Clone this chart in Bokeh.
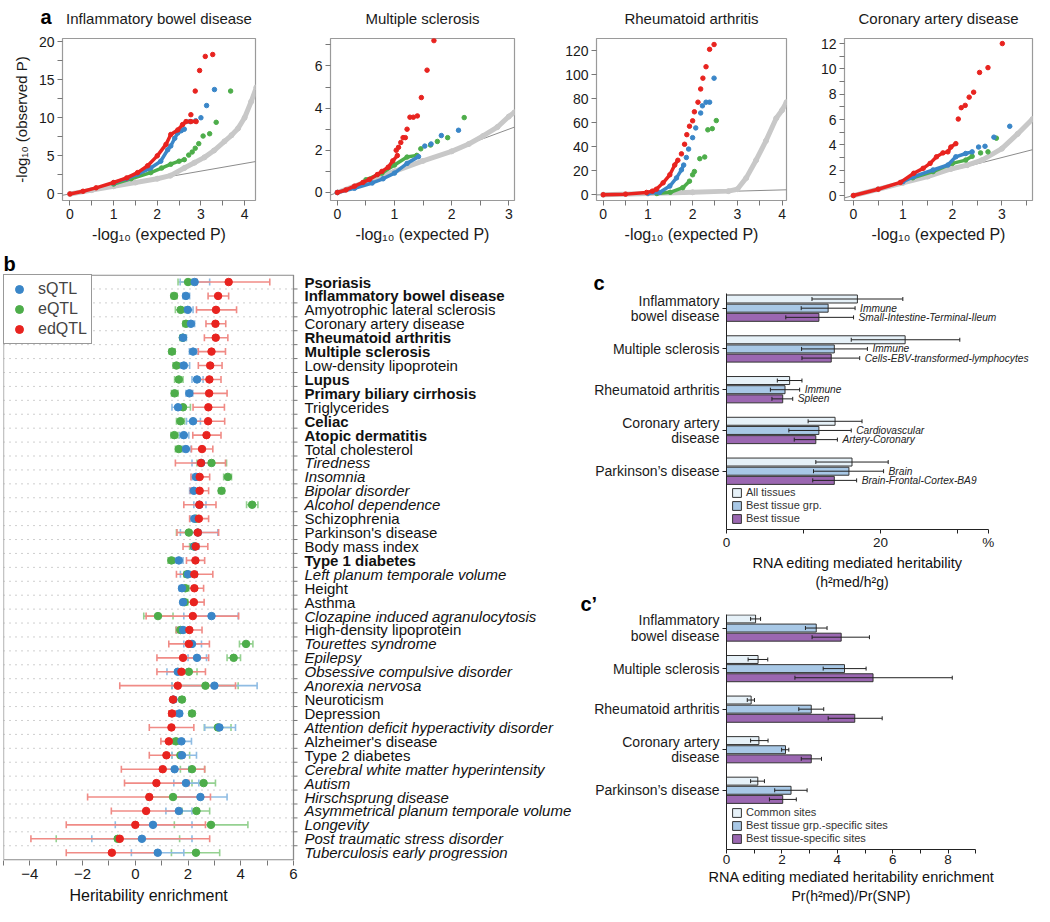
import math
from bokeh.plotting import figure
from bokeh.layouts import row, column
from bokeh.models import (Range1d, FixedTicker, Slope, ColumnDataSource, Legend, LegendItem,
                          Title)
from bokeh.core.properties import value, field
from bokeh.embed import file_html
from bokeh.resources import INLINE

FONT = "Liberation Sans"
RED, BLUE, GREEN, GRAY = "#E8231F", "#3A86C8", "#4DAD4A", "#C8C8C8"
RED_L, BLUE_L, GREEN_L = "#F08B86", "#8FBCE3", "#95D191"
C_ALL, C_GRP, C_BEST = "#E6F1F8", "#A8C8E6", "#9B67B1"

# ---------------- panel a : QQ data ----------------
ibd_gray_x = [0, 0.5, 1.0, 1.5, 2.0, 2.3, 2.62, 2.85, 3.08, 3.3, 3.54, 3.7, 3.85, 4.0, 4.15, 4.27]
ibd_gray_y = [0, 0.5, 1.0, 1.5, 2.0, 2.4, 3.4, 4.1, 4.8, 5.7, 6.9, 7.7, 8.6, 10.0, 12.1, 14.0]
ibd_red_x = [0, 0.3, 0.6, 1.0, 1.3, 1.55, 1.78, 2.0, 2.2, 2.31, 2.47, 2.58, 2.66, 2.77, 2.89]
ibd_red_y = [0, 0.35, 0.8, 1.5, 2.1, 2.8, 3.7, 5.0, 6.5, 7.8, 8.4, 9.1, 9.5, 9.5, 9.5]
ibd_red_tx = [2.77, 2.87, 2.97, 3.1, 3.27]
ibd_red_ty = [10.4, 13.5, 16.2, 18.05, 18.3]
ibd_blue_x = [1.0, 1.3, 1.55, 1.85, 2.08, 2.24, 2.31, 2.4, 2.47, 2.55, 2.62]
ibd_blue_y = [1.45, 2.0, 2.6, 3.4, 4.3, 5.8, 6.3, 7.3, 8.0, 8.3, 8.5]
ibd_blue_tx = [2.75, 2.88, 3.0, 3.13, 3.31]
ibd_blue_ty = [9.5, 9.6, 10.0, 11.6, 13.7]
ibd_green_x = [1.0, 1.4, 1.85, 2.1, 2.31, 2.5, 2.62]
ibd_green_y = [1.3, 2.0, 2.8, 3.4, 3.9, 4.3, 4.5]
ibd_green_tx = [2.72, 2.8, 2.87, 2.95, 3.05, 3.2, 3.35, 3.68]
ibd_green_ty = [5.1, 5.5, 6.0, 6.6, 7.6, 7.9, 9.4, 13.5]

ms_gray_x = [0, 0.5, 1.0, 1.5, 2.0, 2.3, 2.55, 2.8, 3.0, 3.1]
ms_gray_y = [0, 0.5, 1.0, 1.5, 1.95, 2.3, 2.68, 3.1, 3.6, 3.8]
ms_red_x = [0, 0.15, 0.3, 0.45, 0.56, 0.7, 0.78, 0.89, 0.97, 1.05]
ms_red_y = [0, 0.12, 0.3, 0.48, 0.62, 0.85, 1.0, 1.2, 1.5, 1.75]
ms_red_tx = [1.03, 1.07, 1.11, 1.15, 1.19, 1.22, 1.27, 1.33, 1.4, 1.47, 1.57, 1.69]
ms_red_ty = [2.0, 2.14, 2.37, 2.6, 2.6, 3.0, 3.57, 3.57, 3.63, 4.5, 5.8, 7.2]
ms_blue_x = [0, 0.3, 0.61, 0.8, 1.0, 1.22, 1.42]
ms_blue_y = [0, 0.2, 0.45, 0.65, 0.92, 1.38, 1.7]
ms_blue_tx = [1.53, 1.64, 1.82, 2.12]
ms_blue_ty = [2.2, 2.3, 2.7, 2.95]
ms_green_x = [0.5, 0.78, 1.0, 1.22, 1.39]
ms_green_y = [0.6, 0.92, 1.3, 1.68, 1.76]
ms_green_tx = [1.46, 1.63, 1.75, 1.93, 2.22]
ms_green_ty = [2.07, 2.25, 2.42, 2.6, 3.55]

ra_gray_x = [0, 1.0, 2.0, 2.8, 3.0, 3.2, 3.42, 3.64, 3.87, 4.0, 4.1]
ra_gray_y = [0, 1.0, 2.0, 3.0, 4.6, 14.0, 28.7, 44.8, 63.6, 70.3, 77.0]
ra_red_x = [0, 0.5, 0.97, 1.1, 1.19, 1.34, 1.49, 1.6, 1.67]
ra_red_y = [0, 0.5, 1.9, 3.0, 4.6, 9.9, 16.6, 24.7, 28.7]
ra_red_tx = [1.75, 1.82, 1.87, 1.93, 2.0, 2.04, 2.12, 2.18, 2.23, 2.3, 2.38, 2.48]
ra_red_ty = [34, 42, 50, 57, 61.5, 69, 77, 88, 97, 106.5, 121, 125]
ra_blue_x = [1.0, 1.26, 1.49, 1.64, 1.75, 1.8]
ra_blue_y = [1.2, 1.9, 7.2, 14, 20.7, 24.7]
ra_blue_tx = [1.86, 1.91, 2.0, 2.07, 2.18, 2.22, 2.3, 2.38, 2.48]
ra_blue_ty = [31, 38, 47.5, 55.6, 68, 74, 77, 77, 97]
ra_green_x = [1.2, 1.5, 1.78, 1.93]
ra_green_y = [1.0, 2.0, 5.9, 11.3]
ra_green_tx = [2.0, 2.04, 2.16, 2.27, 2.34, 2.44, 2.53]
ra_green_ty = [16.6, 19.3, 30, 31.4, 54, 55, 61.7]

cad_gray_x = [0, 0.5, 1.0, 1.5, 1.97, 2.3, 2.6, 3.0, 3.32, 3.62]
cad_gray_y = [0, 0.5, 1.0, 1.5, 2.1, 2.4, 2.8, 3.7, 4.87, 6.04]
cad_red_x = [0, 0.5, 0.95, 1.22, 1.41, 1.55, 1.68, 1.81, 1.91, 1.97, 2.07]
cad_red_y = [0, 0.5, 1.04, 1.76, 2.15, 2.54, 3.06, 3.37, 3.45, 3.83, 4.1]
cad_red_tx = [2.12, 2.18, 2.26, 2.34, 2.43, 2.55, 2.72, 3.01]
cad_red_ty = [6.04, 6.94, 7.12, 7.77, 8.16, 9.72, 10.1, 12.0]
cad_blue_x = [1.0, 1.22, 1.61, 1.91, 2.07, 2.27, 2.4]
cad_blue_y = [1.1, 1.5, 2.02, 2.41, 3.06, 3.32, 3.45]
cad_blue_tx = [2.53, 2.66, 2.84, 3.16]
cad_blue_ty = [3.83, 3.89, 4.61, 5.47]
cad_green_x = [1.2, 1.61, 2.0, 2.27, 2.4]
cad_green_y = [1.4, 1.89, 2.54, 2.8, 3.1]
cad_green_tx = [2.57, 2.72, 2.89]
cad_green_ty = [3.37, 3.45, 4.53]

qq_titles = ["Inflammatory bowel disease", "Multiple sclerosis", "Rheumatoid arthritis",
             "Coronary artery disease"]

# ---------------- panel b : heritability enrichment ----------------
traits = ["Psoriasis", "Inflammatory bowel disease", "Amyotrophic lateral sclerosis",
          "Coronary artery disease", "Rheumatoid arthritis", "Multiple sclerosis",
          "Low-density lipoprotein", "Lupus", "Primary biliary cirrhosis", "Triglycerides",
          "Celiac", "Atopic dermatitis", "Total cholesterol", "Tiredness", "Insomnia",
          "Bipolar disorder", "Alcohol dependence", "Schizophrenia", "Parkinson's disease",
          "Body mass index", "Type 1 diabetes", "Left planum temporale volume", "Height",
          "Asthma", "Clozapine induced agranulocytosis", "High-density lipoprotein",
          "Tourettes syndrome", "Epilepsy", "Obsessive compulsive disorder",
          "Anorexia nervosa", "Neuroticism", "Depression",
          "Attention deficit hyperactivity disorder", "Alzheimer's disease",
          "Type 2 diabetes", "Cerebral white matter hyperintensity", "Autism",
          "Hirschsprung disease", "Asymmetrical planum temporale volume", "Longevity",
          "Post traumatic stress disorder", "Tuberculosis early progression"]
trait_style = ["bold", "bold", "normal", "normal", "bold", "bold", "normal", "bold", "bold",
               "normal", "bold", "bold", "normal", "italic", "italic", "italic", "italic",
               "normal", "normal", "normal", "bold", "italic", "normal", "normal", "italic",
               "normal", "italic", "italic", "italic", "italic", "normal", "normal", "italic",
               "normal", "normal", "italic", "italic", "italic", "italic", "italic", "italic",
               "italic"]
s_est = [2.25, 1.92, 1.99, 2.11, 1.81, 2.19, 1.84, 2.34, 2.05, 1.62, 2.19, 1.84, 1.92, 2.5,
         2.3, 2.22, 2.43, 2.24, 2.37, 2.25, 1.65, 2.0, 1.77, 1.81, 2.89, 1.81, 2.15, 2.34,
         1.61, 3.0, 1.45, 1.67, 3.19, 1.75, 1.77, 1.49, 1.92, 2.47, 1.65, 0.67, 0.25, 0.85]
s_lo = [1.7, 1.81, 1.77, 1.99, 1.71, 2.05, 1.71, 2.15, 1.92, 1.39, 1.94, 1.68, 1.77, 2.15,
        2.15, 2.06, 2.22, 2.08, 1.71, 2.1, 1.49, 1.71, 1.67, 1.72, 1.84, 1.58, 1.84, 2.0,
        1.2, 1.39, 1.38, 1.58, 2.63, 1.33, 1.39, 0.95, 1.46, 1.46, 1.16, -0.76, -1.65, -0.15]
s_hi = [2.82, 2.06, 2.19, 2.25, 1.94, 2.34, 2.06, 2.57, 2.18, 1.87, 2.47, 2.03, 2.11, 2.95,
        2.47, 2.37, 2.68, 2.41, 3.13, 2.41, 1.81, 2.34, 1.9, 1.9, 3.9, 2.03, 2.51, 2.7,
        2.03, 4.62, 1.53, 1.76, 3.8, 2.13, 2.32, 2.03, 2.41, 3.48, 2.15, 2.15, 2.15, 1.84]
e_est = [2.0, 1.47, 1.72, 1.92, 1.8, 1.39, 1.56, 1.65, 1.49, 1.81, 1.71, 1.48, 1.65, 2.89,
         3.51, 3.27, 4.43, 2.3, 2.03, 2.22, 1.37, 1.96, 1.9, 1.87, 0.86, 1.71, 4.2, 3.73,
         2.03, 2.66, 1.77, 2.15, 3.13, 1.54, 1.71, 2.15, 2.59, 1.43, 2.32, 2.87, -0.67, 2.3]
e_lo = [1.62, 1.37, 1.52, 1.81, 1.7, 1.29, 1.43, 1.49, 1.37, 1.58, 1.56, 1.35, 1.52, 2.34,
        3.35, 3.16, 4.22, 2.18, 1.56, 2.06, 1.24, 1.85, 1.77, 1.77, 0.32, 1.54, 3.95, 3.48,
        1.71, 1.39, 1.68, 2.05, 2.62, 1.43, 1.39, 1.71, 2.15, 0.44, 1.77, 1.48, -3.0, 1.37]
e_hi = [2.15, 1.58, 1.87, 2.06, 1.93, 1.51, 1.71, 1.81, 1.62, 2.09, 1.87, 1.62, 1.81, 3.46,
        3.65, 3.38, 4.65, 2.43, 2.47, 2.34, 1.49, 2.1, 2.03, 1.99, 1.43, 1.87, 4.46, 3.99,
        2.34, 3.9, 1.86, 2.25, 3.63, 1.66, 2.06, 2.63, 3.04, 2.47, 2.82, 4.27, 1.68, 3.2]
ed_est = [3.54, 3.14, 3.06, 3.04, 3.05, 2.89, 2.84, 2.81, 2.8, 2.77, 2.76, 2.7, 2.53, 2.49,
          2.44, 2.44, 2.43, 2.41, 2.37, 2.29, 2.28, 2.24, 2.24, 2.22, 2.18, 2.05, 2.03, 1.81,
          1.75, 1.61, 1.43, 1.39, 1.37, 1.27, 1.18, 1.04, 0.8, 0.53, 0.41, 0.0, -0.59, -0.89]
ed_lo = [2.34, 2.76, 2.32, 2.68, 2.62, 2.39, 2.39, 2.37, 2.13, 2.19, 2.15, 2.18, 2.13, 1.52,
         2.11, 2.09, 1.84, 2.06, 1.58, 1.81, 1.94, 1.56, 1.87, 1.81, 0.41, 1.56, 1.27, 0.82,
         0.82, -0.59, 1.35, 1.27, 0.53, 0.97, 0.53, -0.53, -0.41, -1.81, -0.91, -2.62, -3.96,
         -2.62]
ed_hi = [5.1, 3.54, 3.84, 3.43, 3.51, 3.42, 3.29, 3.25, 3.48, 3.38, 3.39, 3.25, 2.94, 3.42,
         2.82, 2.78, 3.06, 2.78, 3.16, 2.75, 2.63, 2.94, 2.59, 2.61, 3.92, 2.53, 2.81, 2.78,
         2.66, 3.8, 1.52, 1.52, 2.22, 1.56, 1.84, 2.63, 2.03, 2.85, 1.71, 2.66, 2.82, 0.82]
b_xticks = [-4, -2, 0, 2, 4, 6]
b_xminor = [-5, -3, -1, 1, 3, 5]

# ---------------- panel c / c' ----------------
c_diseases = ["Inflammatory\nbowel disease", "Multiple sclerosis", "Rheumatoid arthritis",
              "Coronary artery\ndisease", "Parkinson\u2019s disease"]
c_all = [17.0, 23.2, 8.2, 14.1, 16.3]
c_all_lo = [11.1, 16.2, 6.6, 10.6, 11.6]
c_all_hi = [22.9, 30.3, 9.8, 17.6, 21.0]
c_grp = [13.2, 14.0, 7.6, 12.0, 15.9]
c_grp_lo = [9.7, 9.75, 5.7, 8.1, 11.3]
c_grp_hi = [16.7, 18.3, 9.5, 16.2, 20.4]
c_best = [12.0, 13.6, 7.3, 11.6, 14.0]
c_best_lo = [7.7, 9.8, 5.9, 8.8, 11.2]
c_best_hi = [16.5, 17.3, 8.6, 14.4, 16.9]
c_grp_names = ["Immune", "Immune", "Immune", "Cardiovascular", "Brain"]
c_tissue_names = ["Small-Intestine-Terminal-Ileum", "Cells-EBV-transformed-lymphocytes",
                  "Spleen", "Artery-Coronary", "Brain-Frontal-Cortex-BA9"]

cp_common = [1.05, 1.14, 0.89, 1.17, 1.13]
cp_common_lo = [0.87, 0.78, 0.75, 0.87, 0.87]
cp_common_hi = [1.23, 1.49, 1.01, 1.5, 1.37]
cp_grp = [3.24, 4.26, 3.06, 2.13, 2.33]
cp_grp_lo = [2.85, 3.49, 2.61, 1.99, 1.74]
cp_grp_hi = [3.63, 5.04, 3.51, 2.25, 2.91]
cp_best = [4.14, 5.29, 4.63, 3.06, 2.03]
cp_best_lo = [3.09, 2.47, 3.67, 2.7, 1.55]
cp_best_hi = [5.16, 8.15, 5.62, 3.43, 2.52]


def style_axis(ax, size="14px"):
    ax.axis_line_color = None
    ax.major_tick_in = 0
    ax.major_tick_out = 5
    ax.minor_tick_in = 0
    ax.minor_tick_out = 5
    ax.major_tick_line_color = "#777777"
    ax.minor_tick_line_color = "#777777"
    ax.major_label_text_font = FONT
    ax.major_label_text_font_size = size
    ax.major_label_text_color = "#1A1A1A"
    ax.major_label_standoff = 3
    ax.axis_label_text_font = FONT
    ax.axis_label_text_font_style = "normal"
    ax.axis_label_text_color = "#1A1A1A"


def base_fig(**kw):
    p = figure(output_backend="svg", toolbar_location=None, **kw)
    p.grid.visible = False
    p.background_fill_color = "white"
    p.border_fill_color = "white"
    return p


def tune_title(t, standoff=0):
    try:
        t.standoff = standoff
    except AttributeError:
        pass
    try:
        t.text_line_height = 1.0
    except AttributeError:
        pass


def side_title(text, size, style="normal", align="left", offset=0, standoff=0):
    t = Title(text=text, align=align, offset=offset, text_font=FONT, text_font_size=size,
              text_font_style=style, text_color="#111111")
    tune_title(t, standoff)
    return t


def letter_title(p, text, offset):
    p.title.text = text
    p.title.align = "left"
    p.title.offset = offset
    p.title.text_font = FONT
    p.title.text_font_size = "20px"
    p.title.text_font_style = "bold"
    p.title.text_color = "#000000"
    tune_title(p.title, 0)


# ---------------- panel a figures ----------------
A_W = [264, 258, 268, 244]
A_MBL = [62, 66, 74, 54]
A_MBR = [9, 8, 4, 2]
A_H, A_TOP, A_FRAME = 216, 8, 162


def qq_panel(k, xr, yr, xmaj, xmin, ymaj, ymin, ylabel, gray, series):
    p = base_fig(width=A_W[k], height=A_H, x_range=Range1d(*xr), y_range=Range1d(*yr),
                 min_border_left=A_MBL[k], min_border_right=A_MBR[k], min_border_top=A_TOP,
                 min_border_bottom=A_H - A_TOP - A_FRAME)
    p.outline_line_color = "#9A9A9A"
    p.outline_line_width = 1.2
    style_axis(p.xaxis[0])
    style_axis(p.yaxis[0])
    p.xaxis.ticker = FixedTicker(ticks=xmaj, minor_ticks=xmin)
    p.yaxis.ticker = FixedTicker(ticks=ymaj, minor_ticks=ymin)
    p.xaxis.axis_label = "-log\u2081\u2080 (expected P)"
    p.xaxis.axis_label_text_font_size = "16px"
    p.xaxis.axis_label_standoff = 4
    if ylabel:
        p.yaxis.axis_label = ylabel
        p.yaxis.axis_label_text_font_size = "15px"
        p.yaxis.axis_label_standoff = 6
    sl = Slope(gradient=1, y_intercept=0, line_color="#8C8C8C", line_width=1)
    sl.level = "underlay"
    p.add_layout(sl)
    p.line(gray[0], gray[1], line_width=5, line_color=GRAY, line_cap="round",
           line_join="round")
    p.scatter(gray[0], gray[1], size=5, color=GRAY)
    for color, (dx, dy, tx, ty) in series:
        p.line(dx, dy, line_width=3.5, line_color=color, line_cap="round", line_join="round")
        p.scatter(dx, dy, size=4.5, color=color)
        p.scatter(tx, ty, size=4.5, color=color)
    return p


a1 = qq_panel(0, (-0.17, 4.25), (-0.86, 20.4),
              [0, 1, 2, 3, 4], [0.5, 1.5, 2.5, 3.5], [0, 5, 10, 15, 20], [2.5, 7.5, 12.5, 17.5],
              "-log\u2081\u2080 (observed P)", (ibd_gray_x, ibd_gray_y),
              [(GREEN, (ibd_green_x, ibd_green_y, ibd_green_tx, ibd_green_ty)),
               (BLUE, (ibd_blue_x, ibd_blue_y, ibd_blue_tx, ibd_blue_ty)),
               (RED, (ibd_red_x, ibd_red_y, ibd_red_tx, ibd_red_ty))])
a2 = qq_panel(1, (-0.12, 3.1), (-0.38, 7.3),
              [0, 1, 2, 3], [0.5, 1.5, 2.5], [0, 2, 4, 6], [1, 3, 5, 7], None,
              (ms_gray_x, ms_gray_y),
              [(GREEN, (ms_green_x, ms_green_y, ms_green_tx, ms_green_ty)),
               (BLUE, (ms_blue_x, ms_blue_y, ms_blue_tx, ms_blue_ty)),
               (RED, (ms_red_x, ms_red_y, ms_red_tx, ms_red_ty))])
a3 = qq_panel(2, (-0.15, 4.1), (-4.8, 130),
              [0, 1, 2, 3, 4], [0.5, 1.5, 2.5, 3.5], [0, 20, 40, 60, 80, 100, 120], [], None,
              (ra_gray_x, ra_gray_y),
              [(GREEN, (ra_green_x, ra_green_y, ra_green_tx, ra_green_ty)),
               (BLUE, (ra_blue_x, ra_blue_y, ra_blue_tx, ra_blue_ty)),
               (RED, (ra_red_x, ra_red_y, ra_red_tx, ra_red_ty))])
a4 = qq_panel(3, (-0.18, 3.62), (-0.39, 12.4),
              [0, 1, 2, 3], [0.5, 1.5, 2.5, 3.5], [0, 2, 4, 6, 8, 10, 12],
              [1, 3, 5, 7, 9, 11], None, (cad_gray_x, cad_gray_y),
              [(GREEN, (cad_green_x, cad_green_y, cad_green_tx, cad_green_ty)),
               (BLUE, (cad_blue_x, cad_blue_y, cad_blue_tx, cad_blue_ty)),
               (RED, (cad_red_x, cad_red_y, cad_red_tx, cad_red_ty))])

# header strip with panel letter "a" and the four QQ titles (centred over each frame)
HEAD_H = 30
total_w = sum(A_W)
hdr = base_fig(width=total_w, height=HEAD_H, x_range=Range1d(0, total_w),
               y_range=Range1d(HEAD_H, 0), x_axis_location=None, y_axis_location=None,
               min_border_left=0, min_border_right=0, min_border_top=0, min_border_bottom=0)
hdr.outline_line_color = None
starts = [sum(A_W[:k]) for k in range(4)]
centers = [starts[k] + A_MBL[k] + (A_W[k] - A_MBL[k] - A_MBR[k]) / 2 for k in range(4)]
hdr.text(x=centers, y=[18] * 4, text=qq_titles, text_align="center",
         text_baseline="alphabetic", text_font=value(FONT), text_font_size="15px",
         text_color="#1A1A1A")
hdr.text(x=[starts[0] + A_MBL[0] - 22], y=[16], text=["a"], text_align="left",
         text_baseline="alphabetic", text_font=value(FONT), text_font_size="20px",
         text_font_style="bold", text_color="#000000")

# ---------------- panel b figure ----------------
n = len(traits)
ys = list(range(n))
ROW2_H = 906 - HEAD_H - A_H
B_W, B_MBL, B_TOP, B_FRAME = 578, 3, 28, 586
B_PX = 290 / 11.0
pb = base_fig(width=B_W, height=ROW2_H, x_range=Range1d(-5, -5 + (B_W - B_MBL) / B_PX),
              y_range=Range1d(n - 1 + 0.56, -0.54), y_axis_location=None,
              min_border_left=B_MBL, min_border_right=0, min_border_top=B_TOP,
              min_border_bottom=ROW2_H - B_TOP - B_FRAME)
pb.outline_line_color = None
letter_title(pb, "b", 0)
style_axis(pb.xaxis[0], "15px")
pb.xaxis.bounds = (-5, 6)
pb.xaxis.ticker = FixedTicker(ticks=b_xticks, minor_ticks=b_xminor)
pb.xaxis.major_label_overrides = {t: (("\u2212" + str(-t)) if t < 0 else str(t)) for t in b_xticks}
pb.add_layout(side_title("Heritability enrichment", "16px", offset=66, standoff=6), "below")
# plot box (axis extent)
pb.quad(left=[-5], right=[6], top=[-0.5], bottom=[n - 1 + 0.52], fill_color=None,
        line_color="#8A8A8A", line_width=1.3)
grid_y = [i + 0.5 for i in range(n - 1)]
pb.segment(x0=-5, y0=grid_y, x1=6, y1=grid_y, line_color="#9E9E9E", line_dash="1 5",
           line_width=1)
# right-hand ticks of the trait axis
pb.segment(x0=6, y0=grid_y, x1=6 + 4 / B_PX, y1=grid_y, line_color="#777777", line_width=1)
series_b = [(GREEN, GREEN_L, e_est, e_lo, e_hi), (BLUE, BLUE_L, s_est, s_lo, s_hi),
            (RED, RED_L, ed_est, ed_lo, ed_hi)]
for dark, light, est, lo, hi in series_b:
    pb.segment(x0=lo, y0=ys, x1=hi, y1=ys, line_color=light, line_width=1.6)
    pb.scatter(x=lo, y=ys, marker="dash", angle=math.pi / 2, size=7, line_color=light,
               line_width=1.6)
    pb.scatter(x=hi, y=ys, marker="dash", angle=math.pi / 2, size=7, line_color=light,
               line_width=1.6)
pts = {}
for dark, light, est, lo, hi in series_b:
    pts[dark] = pb.scatter(x=est, y=ys, size=7.5, color=dark)
leg = Legend(items=[LegendItem(label="sQTL", renderers=[pts[BLUE]]),
                    LegendItem(label="eQTL", renderers=[pts[GREEN]]),
                    LegendItem(label="edQTL", renderers=[pts[RED]])],
             location="top_left", margin=0, padding=4, spacing=0,
             label_text_font=FONT, label_text_font_size="16px", label_height=20,
             glyph_height=20, glyph_width=22, label_standoff=8,
             border_line_color="#333333", border_line_width=1.2,
             background_fill_color="white", background_fill_alpha=1.0)
pb.add_layout(leg)
lab_src = ColumnDataSource(dict(x=[6] * n, y=ys, text=traits, style=trait_style))
pb.text(x="x", y="y", text="text", source=lab_src, x_offset=11, text_baseline="middle",
        text_align="left", text_font=value(FONT), text_font_size="15px",
        text_font_style=field("style"), text_color="#111111")

# ---------------- panel c / c' ----------------
C_W = sum(A_W) - B_W
C_MBL = 148
C_FW = C_W - C_MBL
C_PX = 7.7
CP_PX = 27.7


def bar_panel(height, mbt, frame_h, px, bounds, xmaj, xmin, overrides, yr, groups,
              legend_labels, annotations, letter, letter_off, label_lines):
    p = base_fig(width=C_W, height=height, x_range=Range1d(0, C_FW / px),
                 y_range=Range1d(*yr), min_border_left=C_MBL, min_border_right=0,
                 min_border_top=mbt, min_border_bottom=height - mbt - frame_h)
    p.outline_line_color = None
    letter_title(p, letter, letter_off)
    for ax in (p.xaxis[0], p.yaxis[0]):
        style_axis(ax, "13.5px")
        ax.axis_line_color = "#222222"
        ax.major_tick_line_color = "#222222"
        ax.minor_tick_line_color = "#222222"
        ax.major_tick_out = 4
        ax.minor_tick_out = 4
    p.xaxis.bounds = bounds
    p.xaxis.ticker = FixedTicker(ticks=xmaj, minor_ticks=xmin)
    if overrides:
        p.xaxis.major_label_overrides = overrides
    p.xaxis.major_label_standoff = 1
    for txt, off, size in label_lines:
        p.add_layout(side_title(txt, size, offset=off, standoff=1), "below")
    p.yaxis.ticker = FixedTicker(ticks=list(range(len(c_diseases))))
    p.yaxis.major_label_overrides = {i: d for i, d in enumerate(c_diseases)}
    p.yaxis.major_label_text_font_size = "14px"
    p.yaxis.major_label_text_line_height = 0.95
    p.yaxis.major_label_standoff = 3
    items = []
    for k, (vals, lo, hi, col) in enumerate(groups):
        yk = [i + (k - 1) * 0.225 for i in range(len(vals))]
        r = p.hbar(y=yk, left=0, right=vals, height=0.196, fill_color=col,
                   line_color="#333333", line_width=1)
        p.segment(x0=lo, y0=yk, x1=hi, y1=yk, line_color="#222222", line_width=1)
        p.scatter(x=lo, y=yk, marker="dash", angle=math.pi / 2, size=4, line_color="#222222")
        p.scatter(x=hi, y=yk, marker="dash", angle=math.pi / 2, size=4, line_color="#222222")
        items.append(LegendItem(label=legend_labels[k], renderers=[r]))
    lg = Legend(items=items, location="bottom_left", margin=5, padding=0, spacing=1,
                label_text_font=FONT, label_text_font_size="11px", label_text_color="#333333",
                label_height=11, glyph_height=11, glyph_width=11, label_standoff=4,
                border_line_color=None, background_fill_alpha=0)
    p.add_layout(lg)
    for k, hi, names in annotations:
        yk = [i + (k - 1) * 0.225 for i in range(len(names))]
        p.text(x=hi, y=yk, text=names, x_offset=5, text_baseline="middle",
               text_font=value(FONT), text_font_size="10.2px", text_font_style="italic",
               text_color="#222222")
    return p


C_H = 344
pc = bar_panel(C_H, 47, 240, C_PX, (0, 34), [0, 20, 34], [10, 30],
               {0: "0", 20: "20", 34: "%"}, (5.43, -0.36),
               [(c_all, c_all_lo, c_all_hi, C_ALL), (c_grp, c_grp_lo, c_grp_hi, C_GRP),
                (c_best, c_best_lo, c_best_hi, C_BEST)],
               ["All tissues", "Best tissue grp.", "Best tissue"],
               [(1, c_grp_hi, c_grp_names), (2, c_best_hi, c_tissue_names)],
               "c", -133,
               [("RNA editing mediated heritability", 26, "14.5px"),
                ("(h\u00b2med/h\u00b2g)", 89, "14px")])
pcp = bar_panel(ROW2_H - C_H, 22, 237, CP_PX, (0, 9), [0, 2, 4, 6, 8], [1, 3, 5, 7, 9], None,
                (5.46, -0.334),
                [(cp_common, cp_common_lo, cp_common_hi, C_ALL),
                 (cp_grp, cp_grp_lo, cp_grp_hi, C_GRP),
                 (cp_best, cp_best_lo, cp_best_hi, C_BEST)],
                ["Common sites", "Best tissue grp.-specific sites", "Best tissue-specific sites"],
                [], "c\u2019", -146,
                [("RNA editing mediated heritability enrichment", -18, "14.5px"),
                 ("Pr(h\u00b2med)/Pr(SNP)", 65, "14px")])

layout = column(hdr, row(a1, a2, a3, a4), row(pb, column(pc, pcp)))
open("out.html", "w").write(file_html(layout, INLINE, "RNA editing heritability"))
